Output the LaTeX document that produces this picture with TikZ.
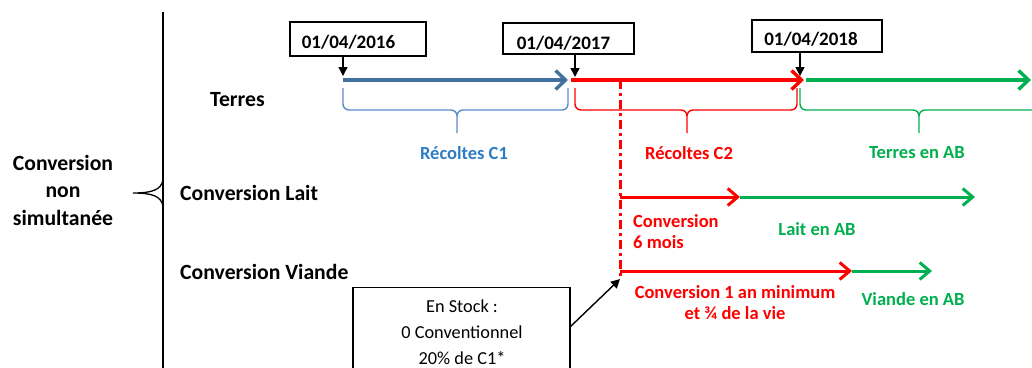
\documentclass[tikz,border=0pt]{standalone}
\usepackage{fontspec}
\setmainfont{Carlito}
\usetikzlibrary{arrows.meta}
\definecolor{cblue}{HTML}{41719C}
\definecolor{cbraceblue}{HTML}{5B8CC8}
\definecolor{ctextblue}{HTML}{2E7DC4}
\definecolor{cred}{HTML}{FF0000}
\definecolor{cgreen}{HTML}{00B050}
\newcommand\mybrace[4]{%
  \draw[bracestyle,#1] (#2,88) -- (#2,104) to[out=-90,in=180] ({#2+6},110) -- ({#4-6},110) to[out=0,in=90] (#4,116) -- (#4,133);
  \draw[bracestyle,#1] (#4,116) to[out=90,in=180] ({#4+6},110) -- ({#3-6},110) to[out=0,in=-90] (#3,104) -- (#3,88);}
\begin{document}
\begin{tikzpicture}[x=1pt,y=-1pt,
  biglab/.style={font={\fontsize{21.7}{27.5}\selectfont\bfseries}, inner sep=0pt},
  smalllab/.style={font={\fontsize{18.5}{21}\selectfont\bfseries}, inner sep=0pt},
  datebox/.style={draw=black, line width=1.5pt, inner sep=0pt},
  datetxt/.style={font={\fontsize{19}{22}\selectfont\bfseries}, inner sep=0pt},
  bracestyle/.style={line width=1.4pt},
  tline/.style={line width=3.4pt, -{Straight Barb[length=10pt,width=19pt]}},
  rline/.style={line width=3pt, -{Straight Barb[length=10pt,width=17pt]}},
  darrow/.style={line width=1.4pt, -{Triangle[length=9pt,width=9pt]}},
]
\clip (0,0) rectangle (1032,367);
\fill[white] (0,0) rectangle (1032,367);

% left label and brace
\node[biglab, align=center] (conv) at (63,190) {Conversion\\non\\simultanée};
\coordinate (vtop) at (163,12);
\coordinate (vbot) at (163,370);
\draw[line width=1.3pt] (vtop) -- (vbot);
\coordinate (btip) at (133,193);
\draw[line width=1.3pt] (163,180) .. controls (161,190) and (152,193) .. (btip)
  .. controls (152,193) and (161,196) .. (163,206);

% row labels
\node[biglab, anchor=west] (terres) at (210,100) {Terres};
\node[biglab, anchor=west] (lait) at (180,193) {Conversion Lait};
\node[biglab, anchor=west] (viande) at (180,272) {Conversion Viande};

% date boxes
\node[datebox, minimum width=136pt, minimum height=34pt] (d1) at (358,39) {};
\node[datetxt] (d1t) at (348.5,42) {01/04/2016};
\node[datebox, minimum width=131pt, minimum height=31pt] (d2) at (568.5,38.5) {};
\node[datetxt] (d2t) at (563.5,43) {01/04/2017};
\node[datebox, minimum width=130pt, minimum height=32pt] (d3) at (817,36) {};
\node[datetxt] (d3t) at (811,39) {01/04/2018};

% timeline coordinates
\coordinate (t0) at (343,80);
\coordinate (t1e) at (568,80);
\coordinate (t1) at (571,80);
\coordinate (t2e) at (804,80);
\coordinate (t2) at (806,80);
\coordinate (t3e) at (1031,80);

% date pointers
\coordinate (p0) at (343,76);
\coordinate (p1) at (575,77);
\coordinate (p2) at (800,76);
\draw[darrow] (d1.south -| p0) -- (p0);
\draw[darrow] (d2.south -| p1) -- (p1);
\draw[darrow] (d3.south -| p2) -- (p2);

% timeline arrows
\draw[tline, cblue] (t0) -- (t1e);
\draw[tline, cred] (t1) -- (t2e);
\draw[tline, cgreen] (t2) -- (t3e);

% braces
\mybrace{cbraceblue}{343}{568}{457}
\mybrace{cred}{575}{797}{687}
\mybrace{cgreen}{800}{1045}{919}

\node[smalllab, text=ctextblue] (r1) at (464,153) {Récoltes C1};
\node[smalllab, text=cred] (r2) at (689,153) {Récoltes C2};
\node[smalllab, text=cgreen] (r3) at (917,153) {Terres en AB};

% red dash-dot line
\coordinate (ddtop) at (620,80);
\coordinate (ddbot) at (620,279);
\draw[cred, line width=3pt, dash pattern=on 9pt off 4pt on 3pt off 4pt] (ddtop) -- (ddbot);

% Lait row
\coordinate (l0) at (620,197);
\coordinate (l1e) at (740,197);
\coordinate (l1) at (740,197);
\coordinate (l2e) at (975,197);
\draw[rline, cred] (l0) -- (l1e);
\draw[rline, cgreen] (l1) -- (l2e);
\node[smalllab, text=cred, anchor=west, align=left] (c6) at (633,231.5) {Conversion\\6 mois};
\node[smalllab, text=cgreen] (lab) at (817,229) {Lait en AB};

% Viande row
\coordinate (v0) at (620,271);
\coordinate (v1e) at (852,271);
\coordinate (v1) at (852,271);
\coordinate (v2e) at (932,271);
\draw[rline, cred] (v0) -- (v1e);
\draw[rline, cgreen] (v1) -- (v2e);
\node[smalllab, text=cred, align=center] (c1an) at (735,302.5) {Conversion 1 an minimum\\et ¾ de la vie};
\node[smalllab, text=cgreen] (vab) at (913,299) {Viande en AB};

% stock box
\node[draw=black, line width=1.3pt, minimum width=217pt, minimum height=110pt, anchor=north, inner sep=0pt] (stock) at (461.5,287) {};
\node[font={\fontsize{18.3}{26}\selectfont}, align=center, inner sep=0pt] (stockt) at (462,332) {En Stock :\\0 Conventionnel\\20\% de C1*};
\coordinate (sa) at (570,327);
\draw[darrow] (sa) -- (ddbot);
\end{tikzpicture}
\end{document}
